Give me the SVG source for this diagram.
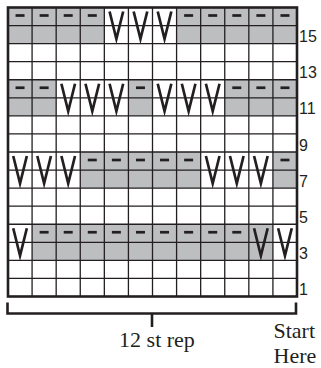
<svg xmlns="http://www.w3.org/2000/svg" xmlns:xlink="http://www.w3.org/1999/xlink" width="321" height="368" viewBox="0 0 321 368">
<style>
.g{fill:#bcbec0;stroke:none}
.ln{stroke:#231f20;stroke-width:1.3;fill:none}
.bd{stroke:#231f20;stroke-width:2.6;fill:none}
.sym{stroke:#231f20;stroke-width:2.7;fill:none;stroke-linejoin:miter;stroke-miterlimit:10}
.num{font-family:"Liberation Sans",Arial,sans-serif;font-size:16px;fill:#231f20}
.lab{font-family:"Liberation Serif","Times New Roman",serif;font-size:22px;fill:#231f20}
</style>
<defs>
<path id="v" class="sym" d="M-6.8,0 L0,27.5 L6.8,0"/>
<path id="d" class="sym" d="M-4.5,0 H4.5"/>
</defs>
<rect x="0" y="0" width="321" height="368" fill="#ffffff"/>
<g id="shading">
<rect class="g" x="8" y="7.5" width="96.33" height="36.13"/>
<rect class="g" x="176.58" y="7.5" width="120.42" height="36.13"/>
<rect class="g" x="8" y="79.75" width="48.17" height="36.13"/>
<rect class="g" x="128.42" y="79.75" width="24.08" height="36.13"/>
<rect class="g" x="224.75" y="79.75" width="72.25" height="36.13"/>
<rect class="g" x="80.25" y="152" width="120.42" height="36.13"/>
<rect class="g" x="272.92" y="152" width="24.08" height="36.13"/>
<rect class="g" x="32.08" y="224.25" width="240.84" height="36.13"/>
</g>
<g id="grid" class="ln">
<path d="M32.08,7.5V296.5M56.17,7.5V296.5M80.25,7.5V296.5M104.33,7.5V296.5M128.42,7.5V296.5M152.5,7.5V296.5M176.58,7.5V296.5M200.67,7.5V296.5M224.75,7.5V296.5M248.83,7.5V296.5M272.92,7.5V296.5"/>
<path d="M8,25.56H297M8,43.63H297M8,61.69H297M8,79.75H297M8,97.81H297M8,115.88H297M8,133.94H297M8,152H297M8,170.06H297M8,188.13H297M8,206.19H297M8,224.25H297M8,242.31H297M8,260.38H297M8,278.44H297"/>
</g>
<rect id="border" class="bd" x="8" y="7.5" width="289" height="289"/>
<g id="purl">
<use xlink:href="#d" x="20.04" y="15.5"/><use xlink:href="#d" x="44.12" y="15.5"/><use xlink:href="#d" x="68.21" y="15.5"/><use xlink:href="#d" x="92.29" y="15.5"/>
<use xlink:href="#d" x="188.63" y="15.5"/><use xlink:href="#d" x="212.71" y="15.5"/><use xlink:href="#d" x="236.79" y="15.5"/><use xlink:href="#d" x="260.88" y="15.5"/><use xlink:href="#d" x="284.96" y="15.5"/>
<use xlink:href="#d" x="20.04" y="87.75"/><use xlink:href="#d" x="44.12" y="87.75"/><use xlink:href="#d" x="140.46" y="87.75"/>
<use xlink:href="#d" x="236.79" y="87.75"/><use xlink:href="#d" x="260.88" y="87.75"/><use xlink:href="#d" x="284.96" y="87.75"/>
<use xlink:href="#d" x="92.29" y="160"/><use xlink:href="#d" x="116.38" y="160"/><use xlink:href="#d" x="140.46" y="160"/><use xlink:href="#d" x="164.54" y="160"/><use xlink:href="#d" x="188.63" y="160"/><use xlink:href="#d" x="284.96" y="160"/>
<use xlink:href="#d" x="44.12" y="232.25"/><use xlink:href="#d" x="68.21" y="232.25"/><use xlink:href="#d" x="92.29" y="232.25"/><use xlink:href="#d" x="116.38" y="232.25"/><use xlink:href="#d" x="140.46" y="232.25"/><use xlink:href="#d" x="164.54" y="232.25"/><use xlink:href="#d" x="188.63" y="232.25"/><use xlink:href="#d" x="212.71" y="232.25"/><use xlink:href="#d" x="236.79" y="232.25"/>
</g>
<g id="slip">
<use xlink:href="#v" x="116.38" y="11.5"/><use xlink:href="#v" x="140.46" y="11.5"/><use xlink:href="#v" x="164.54" y="11.5"/>
<use xlink:href="#v" x="68.21" y="83.75"/><use xlink:href="#v" x="92.29" y="83.75"/><use xlink:href="#v" x="116.38" y="83.75"/><use xlink:href="#v" x="164.54" y="83.75"/><use xlink:href="#v" x="188.63" y="83.75"/><use xlink:href="#v" x="212.71" y="83.75"/>
<use xlink:href="#v" x="20.04" y="156"/><use xlink:href="#v" x="44.12" y="156"/><use xlink:href="#v" x="68.21" y="156"/><use xlink:href="#v" x="212.71" y="156"/><use xlink:href="#v" x="236.79" y="156"/><use xlink:href="#v" x="260.88" y="156"/>
<use xlink:href="#v" x="20.04" y="228.25"/><use xlink:href="#v" x="260.88" y="228.25"/><use xlink:href="#v" x="284.96" y="228.25"/>
</g>
<g id="row-numbers" class="num">
<text x="299" y="42.1">15</text>
<text x="299" y="78.2">13</text>
<text x="299" y="114.4">11</text>
<text x="299" y="150.5">9</text>
<text x="299" y="186.6">7</text>
<text x="299" y="222.7">5</text>
<text x="299" y="258.9">3</text>
<text x="299" y="295">1</text>
</g>
<g id="bracket" class="bd">
<path d="M7.5,302.5V313.5H296V302.5"/>
<path d="M152,313.5V327"/>
</g>
<g id="labels" class="lab">
<text x="157" y="347" text-anchor="middle">12 st rep</text>
<text x="273.5" y="338">Start</text>
<text x="273.5" y="363">Here</text>
</g>
</svg>
